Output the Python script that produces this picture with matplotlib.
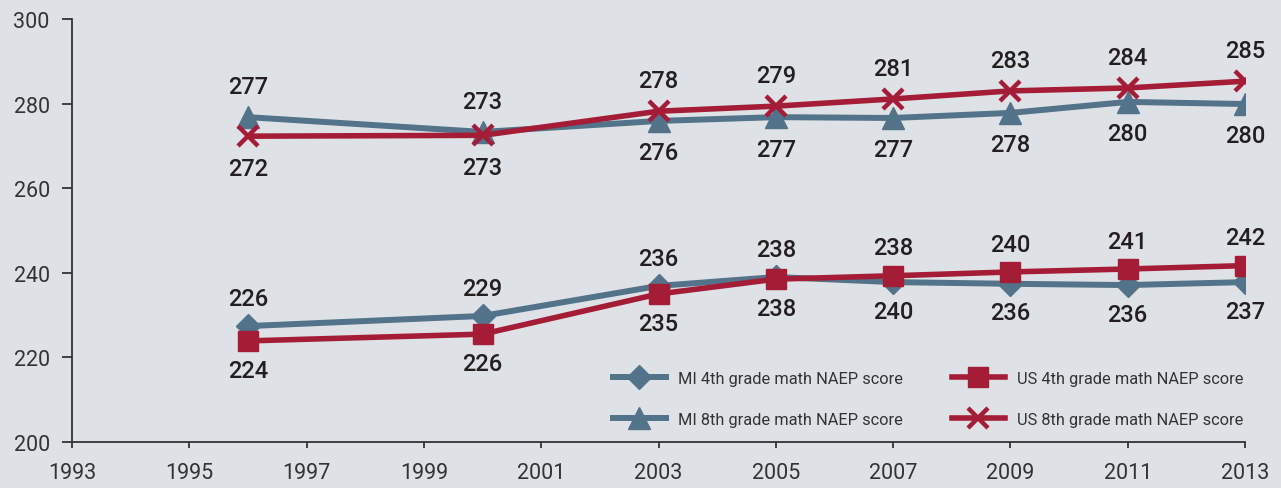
import matplotlib
matplotlib.use("Agg")
import matplotlib.pyplot as plt

years = [1996, 2000, 2003, 2005, 2007, 2009, 2011, 2013]

mi4 = [227.4, 229.8, 236.9, 239.0, 237.8, 237.4, 237.1, 237.8]
us4 = [223.9, 225.5, 235.0, 238.5, 239.3, 240.2, 240.9, 241.7]
mi8 = [276.8, 273.3, 275.9, 276.8, 276.6, 277.8, 280.4, 279.9]
us8 = [272.3, 272.5, 278.2, 279.4, 281.1, 283.0, 283.7, 285.3]

g4_top_labels = ["226", "229", "236", "238", "238", "240", "241", "242"]
g4_bottom_labels = ["224", "226", "235", "238", "240", "236", "236", "237"]
g8_top_labels = ["277", "273", "278", "279", "281", "283", "284", "285"]
g8_bottom_labels = ["272", "273", "276", "277", "277", "278", "280", "280"]

x_ticks = list(range(1993, 2014, 2))
y_ticks = list(range(200, 301, 20))

BG = "#dee1e5"
BLUE = "#527389"
RED = "#a51c36"
TXT = "#231f20"

fig = plt.figure(figsize=(12.81, 4.89), dpi=100, facecolor=BG)
ax = fig.add_axes([72/1281, 1-443/489, (1245-72)/1281, (443-20)/489])
ax.set_facecolor(BG)

ax.plot(years, mi4, color=BLUE, lw=4.3, marker="D", ms=12, mec=BLUE, mfc=BLUE,
        label="MI 4th grade math NAEP score", zorder=3)
ax.plot(years, mi8, color=BLUE, lw=4.3, marker="^", ms=16, mec=BLUE, mfc=BLUE,
        label="MI 8th grade math NAEP score", zorder=3)
ax.plot(years, us4, color=RED, lw=4.0, marker="s", ms=14, mec=RED, mfc=RED,
        label="US 4th grade math NAEP score", zorder=4)
ax.plot(years, us8, color=RED, lw=4.0, marker="x", ms=15, mew=3.2, mec=RED,
        label="US 8th grade math NAEP score", zorder=4)

lab_kw = dict(textcoords="offset points", ha="center", va="center",
              fontsize=17, color=TXT, family="Roboto", fontweight="medium")
for i, x in enumerate(years):
    hi4, lo4 = max(mi4[i], us4[i]), min(mi4[i], us4[i])
    ax.annotate(g4_top_labels[i], (x, hi4), xytext=(0, 20), **lab_kw)
    ax.annotate(g4_bottom_labels[i], (x, lo4), xytext=(0, -21), **lab_kw)
    hi8, lo8 = max(mi8[i], us8[i]), min(mi8[i], us8[i])
    ax.annotate(g8_top_labels[i], (x, hi8), xytext=(0, 22), **lab_kw)
    ax.annotate(g8_bottom_labels[i], (x, lo8), xytext=(0, -23), **lab_kw)

ax.set_xlim(1993, 2013)
ax.set_ylim(200, 300)
ax.set_xticks(x_ticks)
ax.set_yticks(y_ticks)
ax.set_xticklabels([str(t) for t in x_ticks])
ax.set_yticklabels([str(t) for t in y_ticks])
for lbl in ax.get_xticklabels() + ax.get_yticklabels():
    lbl.set_family("Roboto")
    lbl.set_fontweight("normal")
    lbl.set_fontsize(15.5)
    lbl.set_color("#333333")

for s in ["top", "right"]:
    ax.spines[s].set_visible(False)
for s in ["left", "bottom"]:
    ax.spines[s].set_color("#333333")
    ax.spines[s].set_linewidth(1.3)
ax.tick_params(axis="y", length=7, width=1.3, color="#333333", pad=9)
ax.tick_params(axis="x", length=4.5, width=1.3, color="#333333", pad=10)

leg = ax.legend(ncol=2, loc="center", bbox_to_anchor=(0.730, 0.102),
                frameon=False, handlelength=3.2, handletextpad=0.75,
                columnspacing=3.0, labelspacing=1.55,
                prop={"family": "Roboto", "size": 11.8})
for t in leg.get_texts():
    t.set_color("#333333")

fig.savefig("out.png", dpi=100, facecolor=BG)
